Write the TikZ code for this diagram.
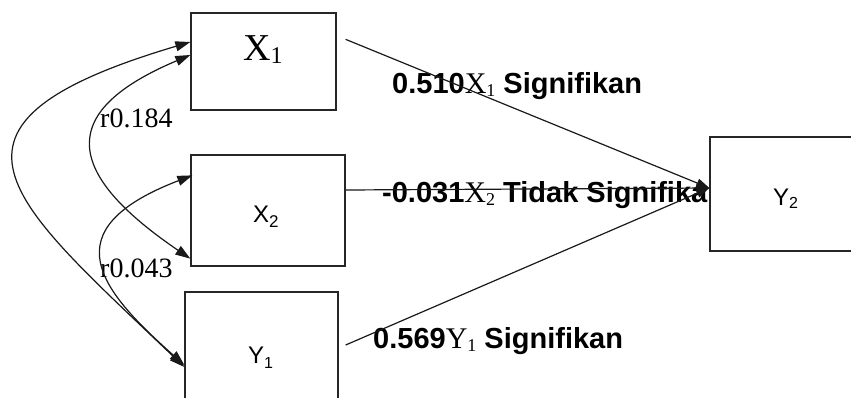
\documentclass[tikz,border=0pt]{standalone}
\usepackage{fontspec}
\setmainfont{Liberation Serif}
\setsansfont{Liberation Sans}
\usetikzlibrary{arrows.meta,calc}
\begin{document}
\begin{tikzpicture}[x=1pt,y=-1pt,
  box/.style={draw=black!85,line width=1.3pt,fill=white,inner sep=0pt},
  conn/.style={draw=black!90,line width=1.2pt},
  tipend/.style={-{Triangle[length=13pt,width=9pt]}},
  bi/.style={{Triangle[length=15pt,width=10pt]}-{Triangle[length=15pt,width=10pt]}},
  coef/.style={anchor=base west,inner sep=0pt,font=\fontsize{29}{29}\selectfont\sffamily\bfseries},
  rlab/.style={anchor=base west,inner sep=0pt,font=\fontsize{28}{28}\selectfont\rmfamily},
  boxlab/.style={anchor=base west,inner sep=0pt,font=\fontsize{24}{24}\selectfont\sffamily}]
\useasboundingbox (0,0) rectangle (851,397);
\clip (0,0) rectangle (851,397);

% boxes
\node[box,minimum width=145pt,minimum height=97pt] (X1) at (263.5,61.5) {};
\node[box,minimum width=154pt,minimum height=111pt] (X2) at (268,210.5) {};
\node[box,minimum width=153pt,minimum height=110pt] (Y1) at (261.5,347) {};

% box labels
\node[anchor=base west,inner sep=0pt,font=\fontsize{38}{38}\selectfont\rmfamily] (X1t) at (243,60) {X\raisebox{-3pt}{\fontsize{24}{24}\selectfont 1}};
\node[boxlab] (X2t) at (253,222) {X\raisebox{-5pt}{\fontsize{17}{17}\selectfont 2}};
\node[boxlab] (Y1t) at (248,363) {Y\raisebox{-5pt}{\fontsize{16}{16}\selectfont 1}};

% coefficient labels
\node[coef] (L1) at (392,93) {0.510{\rmfamily\mdseries\fontsize{30}{30}\selectfont X\raisebox{-3pt}{\fontsize{18}{18}\selectfont 1}} Signifikan};
\node[coef] (L2) at (382,202) {-0.031{\rmfamily\mdseries\fontsize{30}{30}\selectfont X\raisebox{-3pt}{\fontsize{18}{18}\selectfont 2}} Tidak Signifikan};
\node[coef] (L3) at (373,348) {0.569{\rmfamily\mdseries\fontsize{30}{30}\selectfont Y\raisebox{-3pt}{\fontsize{18}{18}\selectfont 1}} Signifikan};

% correlation labels
\node[rlab] (r1) at (100,127) {r0.184};
\node[rlab] (r2) at (100,277) {r0.043};

% Y2 box (covers end of label L2)
\node[box,minimum width=150pt,minimum height=114pt] (Y2) at (785,194) {};
\node[boxlab] (Y2t) at (773,205) {Y\raisebox{-3pt}{\fontsize{16}{16}\selectfont 2}};

% connector end points
\coordinate (s1) at ($(X1.north east)+(9,27)$);
\coordinate (s2) at ($(X2.east)+(0,-20.5)$);
\coordinate (s3) at ($(Y1.east)+(7,-2)$);
\coordinate (t)  at ($(Y2.west)+(0,-6)$);

\coordinate (a1) at ($(X1.west)+(0,-19.5)$);
\coordinate (a2) at ($(Y1.west)+(0,20)$);
\coordinate (b1) at ($(X1.west)+(0,-6.5)$);
\coordinate (b2) at ($(X2.south west)+(0,-8)$);
\coordinate (c1) at ($(X2.north west)+(2,21)$);
\coordinate (c2) at ($(Y1.west)+(0,18)$);

% paths to Y2
\draw[conn,tipend] (s1) -- (t);
\draw[conn,tipend] (s2) -- (t);
\draw[conn,tipend] (s3) -- (t);

% correlations
\draw[conn,bi] (a1) .. controls (-90,125) and (10,200) .. (a2);
\draw[conn,bi] (b1) .. controls (60,110) and (60,170) .. (b2);
\draw[conn,bi] (c1) .. controls (50,230) and (100,290) .. (c2);
\end{tikzpicture}
\end{document}
